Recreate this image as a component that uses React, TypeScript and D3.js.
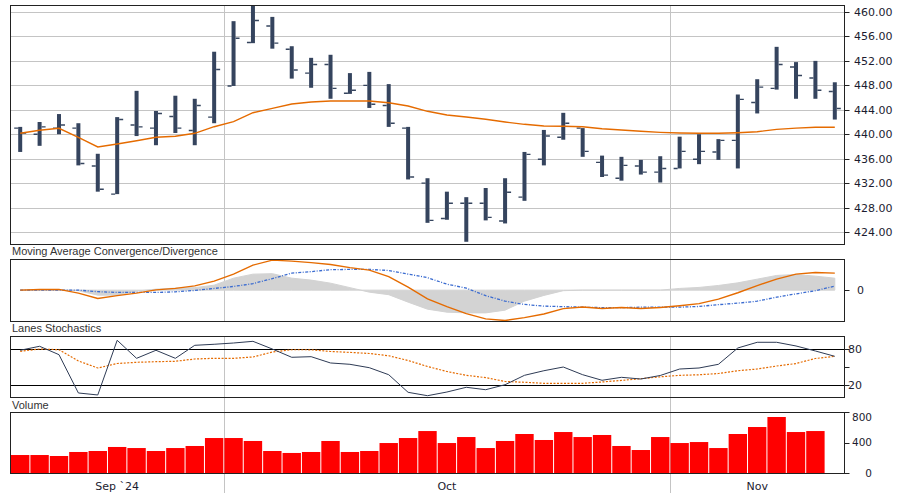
import React from "react";
import * as d3 from "d3";

const dates = [
  "2024-09-16","2024-09-17","2024-09-18","2024-09-19","2024-09-20","2024-09-23","2024-09-24","2024-09-25","2024-09-26","2024-09-27","2024-09-30",
  "2024-10-01","2024-10-02","2024-10-03","2024-10-04","2024-10-07","2024-10-08","2024-10-09","2024-10-10","2024-10-11","2024-10-14","2024-10-15","2024-10-16","2024-10-17","2024-10-18","2024-10-21","2024-10-22","2024-10-23","2024-10-24","2024-10-25","2024-10-28","2024-10-29","2024-10-30","2024-10-31",
  "2024-11-01","2024-11-04","2024-11-05","2024-11-06","2024-11-07","2024-11-08","2024-11-11","2024-11-12","2024-11-13",
];

const opens = [441.0,440.0,441.0,441.0,434.8,430.2,441.5,441.0,442.9,440.6,442.8,447.9,455.0,457.7,453.9,450.0,451.4,446.7,448.0,444.7,441.0,432.0,426.2,428.7,428.7,425.8,429.7,435.9,439.5,441.0,435.4,432.8,434.8,433.8,434.4,435.9,437.1,439.0,445.2,447.5,451.0,449.2,447.0];
const highs = [441.2,442.0,443.3,441.8,436.8,442.8,447.1,443.8,446.3,445.8,453.5,458.5,461.0,459.2,454.4,452.5,453.0,450.0,450.2,448.2,441.2,432.8,430.6,429.7,431.2,432.8,437.1,440.7,443.5,441.0,436.5,436.3,435.8,436.4,439.6,440.0,439.2,446.5,449.0,454.3,451.8,452.0,448.5];
const lows = [437.1,438.1,440.0,434.9,430.6,430.2,439.7,438.2,440.2,438.2,441.8,447.9,454.9,454.0,449.1,447.6,445.8,446.6,444.3,441.2,432.6,425.5,426.0,422.4,425.9,425.4,429.1,434.9,439.1,436.3,433.0,432.4,433.4,432.1,434.4,435.1,435.8,434.4,443.4,447.3,445.8,445.8,442.4];
const closes = [440.2,441.2,441.5,435.2,431.0,442.4,441.2,443.4,441.0,444.7,450.6,455.7,458.6,454.9,450.5,451.4,447.5,447.2,444.9,441.8,433.0,425.9,428.7,428.7,426.4,430.5,436.7,439.7,441.8,437.2,433.3,434.9,433.8,434.4,437.2,437.2,439.0,445.7,447.7,451.4,449.6,447.2,444.2];

const movingAverage = [440.15,440.64,440.97,439.5,437.91,438.4,438.94,439.5,439.66,440.15,441.23,442.05,443.52,444.24,444.95,445.27,445.44,445.44,445.44,445.16,444.62,443.75,443.15,442.82,442.44,442.0,441.62,441.35,441.3,441.23,440.9,440.69,440.48,440.31,440.2,440.15,440.15,440.25,440.41,440.8,441.0,441.13,441.13];

const macdValues = [0.0,0.14,0.14,-0.58,-1.61,-1.07,-0.58,0.06,0.35,0.82,1.75,3.11,4.86,5.84,5.64,5.35,5.0,4.38,3.89,2.63,0.58,-1.69,-3.21,-4.57,-5.58,-5.89,-5.35,-4.63,-3.6,-3.27,-3.56,-3.37,-3.56,-3.37,-3.02,-2.63,-1.75,-0.51,0.88,2.14,3.11,3.44,3.31];
const signalValues = [0,0,0,0,-0.29,-0.45,-0.45,-0.45,-0.33,-0.06,0.33,0.72,1.26,2.24,3.31,3.6,3.99,4.03,4.03,3.83,3.11,2.43,1.17,0.39,-1.07,-2.14,-2.78,-3.11,-3.21,-3.31,-3.4,-3.4,-3.31,-3.31,-3.31,-3.17,-2.82,-2.53,-2.14,-1.36,-0.72,-0.1,0.78];
const histogramValues = [0,0,0,-0.1,-0.97,-0.97,-0.19,0.19,0.39,0.49,0.97,2.33,3.11,3.21,2.33,1.95,1.36,0.49,-0.39,-0.88,-2.33,-3.7,-4.28,-4.42,-4.42,-3.89,-2.14,-1.03,-0.1,0,0,0,0,0,0.33,0.53,0.91,1.42,2.14,2.86,3.05,2.72,2.33];

const stochK = [77.9,84.5,70.6,7.3,4.0,94.4,64.6,77.9,64.6,86.1,87.8,89.9,92.7,80.0,66.3,67.3,56.9,54.7,49.1,37.5,8.4,2.8,8.9,16.7,12.7,21.0,36.5,44.1,50.2,37.5,28.3,33.2,30.4,36.2,46.9,48.6,54.7,81.7,91.1,91.1,85.0,76.7,67.9];
const stochD = [76.2,80.0,78.8,60.2,48.6,56.0,58.0,59.0,59.7,63.5,64.6,64.6,66.8,75.0,78.8,78.7,75.9,74.4,72.6,68.8,61.0,51.1,42.8,36.5,32.7,26.3,25.0,23.3,23.3,23.3,25.5,28.1,30.9,34.0,36.5,37.4,39.5,44.1,46.9,51.9,56.0,64.3,67.9];

const volumes: (number | null)[] = [237,237,224,277,290,343,329,290,329,356,461,461,422,290,264,277,422,277,290,395,461,553,395,474,329,422,514,435,540,474,501,356,303,474,395,408,329,514,606,738,540,553,null];

const priceTicks = [424,428,432,436,440,444,448,452,456,460];
const stochTicks = [20,50,80];
const stochLabels = [20,80];
const volumeTicks = [0,400,800];
const monthNames = ["Sep `24","Oct","Nov"];

const LEFT = 10.5;
const RIGHT = 844.5;
const AXIS_FONT = "'DejaVu Sans', Verdana, sans-serif";
const TITLE_FONT = "'Liberation Sans', Arial, sans-serif";
const BAR_COLOR = "#35445e";
const ORANGE = "#e56b00";
const BLUE = "#3a6bd0";
const GRID = "#c4c4c4";
const BORDER = "#222";

export default function App() {
  const n = dates.length;
  const x = d3.scaleBand<number>().domain(d3.range(n)).range([LEFT, RIGHT]).padding(0);
  const bw = x.bandwidth();
  const cx = (i: number) => (x(i) as number) + bw / 2;

  const main = { top: 5.5, bottom: 244.5 };
  const macdP = { top: 259.5, bottom: 321.5 };
  const stochP = { top: 336.5, bottom: 397.5 };
  const volP = { top: 412.5, bottom: 473.5 };

  const yPrice = d3.scaleLinear().domain([424, 460]).range([232, 12]);
  const yMacd = d3.scaleLinear().domain([-6, 6]).range([321, 259.3]);
  const yStoch = d3.scaleLinear().domain([0, 100]).range([397.4, 336.9]);
  const yVol = d3.scaleLinear().domain([0, 800]).range([473, 412.3]);

  const maLine = d3.line<number>().x((_, i) => cx(i)).y((d) => yPrice(d))(movingAverage) || "";
  const macdPath = d3.line<number>().x((_, i) => cx(i)).y((d) => yMacd(d))(macdValues) || "";
  const signalPath = d3.line<number>().x((_, i) => cx(i)).y((d) => yMacd(d))(signalValues) || "";
  const histPath = d3.area<number>().x((_, i) => cx(i)).y0(yMacd(0)).y1((d) => yMacd(d))(histogramValues) || "";
  const kPath = d3.line<number>().x((_, i) => cx(i)).y((d) => yStoch(d))(stochK) || "";
  const dPath = d3.line<number>().x((_, i) => cx(i)).y((d) => yStoch(d))(stochD) || "";

  // month boundaries and label centers
  const parsed = dates.map((s) => new Date(s + "T00:00:00"));
  const boundaries: number[] = [];
  const spans: { start: number; end: number }[] = [];
  let spanStart = LEFT;
  for (let i = 1; i < n; i++) {
    if (parsed[i].getMonth() !== parsed[i - 1].getMonth()) {
      const bx = x(i) as number;
      boundaries.push(bx);
      spans.push({ start: spanStart, end: bx });
      spanStart = bx;
    }
  }
  spans.push({ start: spanStart, end: RIGHT });

  const panelRect = (p: { top: number; bottom: number }, key: string) => (
    <rect key={key} x={LEFT} y={p.top} width={RIGHT - LEFT} height={p.bottom - p.top} fill="none" stroke={BORDER} strokeWidth={1} />
  );

  return (
    <div style={{ position: "absolute", left: 0, top: 0 }}>
      <svg width={900} height={500} style={{ display: "block", background: "#fff" }}>
        <defs>
          <clipPath id="mainClip">
            <rect x={LEFT} y={main.top} width={RIGHT - LEFT} height={main.bottom - main.top} />
          </clipPath>
        </defs>
        <rect x={0} y={0} width={900} height={500} fill="#fff" />

        {/* main horizontal grid */}
        {priceTicks.map((t) => (
          <line key={"g" + t} x1={LEFT} x2={RIGHT} y1={Math.round(yPrice(t)) + 0.5} y2={Math.round(yPrice(t)) + 0.5} stroke={GRID} strokeWidth={1} />
        ))}

        {/* month separators */}
        {boundaries.map((b, i) => (
          <g key={"vb" + i}>
            <line x1={Math.round(b) + 0.5} x2={Math.round(b) + 0.5} y1={main.top} y2={macdP.bottom} stroke={GRID} strokeWidth={1} />
            <line x1={Math.round(b) + 0.5} x2={Math.round(b) + 0.5} y1={stochP.top} y2={493} stroke={GRID} strokeWidth={1} />
          </g>
        ))}

        {/* OHLC bars */}
        <g clipPath="url(#mainClip)">
          {dates.map((_, i) => {
            const c = cx(i);
            return (
              <g key={"b" + i}>
                <rect x={c - 2} y={yPrice(highs[i])} width={4} height={yPrice(lows[i]) - yPrice(highs[i])} fill={BAR_COLOR} />
                <line x1={c - 6} x2={c - 2} y1={yPrice(opens[i])} y2={yPrice(opens[i])} stroke={BAR_COLOR} strokeWidth={1.4} />
                <line x1={c + 2} x2={c + 6} y1={yPrice(closes[i])} y2={yPrice(closes[i])} stroke={BAR_COLOR} strokeWidth={1.4} />
              </g>
            );
          })}
          <path d={maLine} fill="none" stroke={ORANGE} strokeWidth={1.4} />
        </g>

        {/* MACD */}
        <path d={histPath} fill="#d3d3d3" stroke="#d3d3d3" strokeWidth={1} />
        <path d={signalPath} fill="none" stroke={BLUE} strokeWidth={1.3} strokeDasharray="3,1.5,1,1.5" />
        <path d={macdPath} fill="none" stroke={ORANGE} strokeWidth={1.4} />

        {/* Stochastics */}
        {[80, 20].map((v) => (
          <line key={"s" + v} x1={LEFT} x2={RIGHT} y1={Math.round(yStoch(v)) + 0.5} y2={Math.round(yStoch(v)) + 0.5} stroke="#000" strokeWidth={1.2} />
        ))}
        <path d={dPath} fill="none" stroke={ORANGE} strokeWidth={1.2} strokeDasharray="2,1.5" />
        <path d={kPath} fill="none" stroke="#2e3b55" strokeWidth={1} />

        {/* Volume */}
        {volumes.map((v, i) =>
          v == null ? null : (
            <rect key={"v" + i} x={(x(i) as number) + 0.5} y={yVol(v)} width={bw - 1} height={yVol(0) - yVol(v)} fill="#ff0000" />
          )
        )}

        {/* panel borders */}
        {panelRect(main, "pm")}
        {panelRect(macdP, "pmacd")}
        {panelRect(stochP, "pst")}
        {panelRect(volP, "pv")}

        {/* right axis: price */}
        {priceTicks.map((t) => (
          <g key={"pt" + t}>
            <line x1={RIGHT} x2={RIGHT + 5} y1={Math.round(yPrice(t)) + 0.5} y2={Math.round(yPrice(t)) + 0.5} stroke={BORDER} />
            <text x={854} y={yPrice(t)} dy="0.36em" fontSize={11} fontFamily={AXIS_FONT} fill="#1c1c30">
              {t.toFixed(2)}
            </text>
          </g>
        ))}

        {/* MACD axis */}
        <line x1={RIGHT} x2={RIGHT + 5} y1={Math.round(yMacd(0)) + 0.5} y2={Math.round(yMacd(0)) + 0.5} stroke={BORDER} />
        <text x={857} y={yMacd(0)} dy="0.36em" fontSize={11} fontFamily={AXIS_FONT} fill="#1c1c30">0</text>

        {/* Stoch axis */}
        {stochTicks.map((t) => (
          <line key={"st" + t} x1={RIGHT} x2={RIGHT + 5} y1={Math.round(yStoch(t)) + 0.5} y2={Math.round(yStoch(t)) + 0.5} stroke={BORDER} />
        ))}
        {stochLabels.map((t) => (
          <text key={"sl" + t} x={848} y={yStoch(t)} dy="0.36em" fontSize={11} fontFamily={AXIS_FONT} fill="#1c1c30">{t}</text>
        ))}

        {/* Volume axis */}
        {volumeTicks.map((t) => (
          <g key={"vt" + t}>
            <line x1={RIGHT} x2={RIGHT + 5} y1={Math.round(yVol(t)) + 0.5} y2={Math.round(yVol(t)) + 0.5} stroke={BORDER} />
            <text x={872} y={t === 800 ? yVol(t) + 5 : yVol(t)} dy="0.36em" textAnchor="end" fontSize={10.5} fontFamily={AXIS_FONT} fill="#1c1c30">{t}</text>
          </g>
        ))}

        {/* titles */}
        <text x={12} y={255} fontSize={11} fontFamily={TITLE_FONT} fill="#333">Moving Average Convergence/Divergence</text>
        <text x={12} y={332} fontSize={11} fontFamily={TITLE_FONT} fill="#333">Lanes Stochastics</text>
        <text x={12} y={408.5} fontSize={11} fontFamily={TITLE_FONT} fill="#333">Volume</text>

        {/* month labels */}
        {spans.map((s, i) => (
          <text key={"m" + i} x={(s.start + s.end) / 2} y={490} textAnchor="middle" fontSize={11} fontFamily={AXIS_FONT} fill="#1c1c30">
            {monthNames[i]}
          </text>
        ))}
      </svg>
    </div>
  );
}
